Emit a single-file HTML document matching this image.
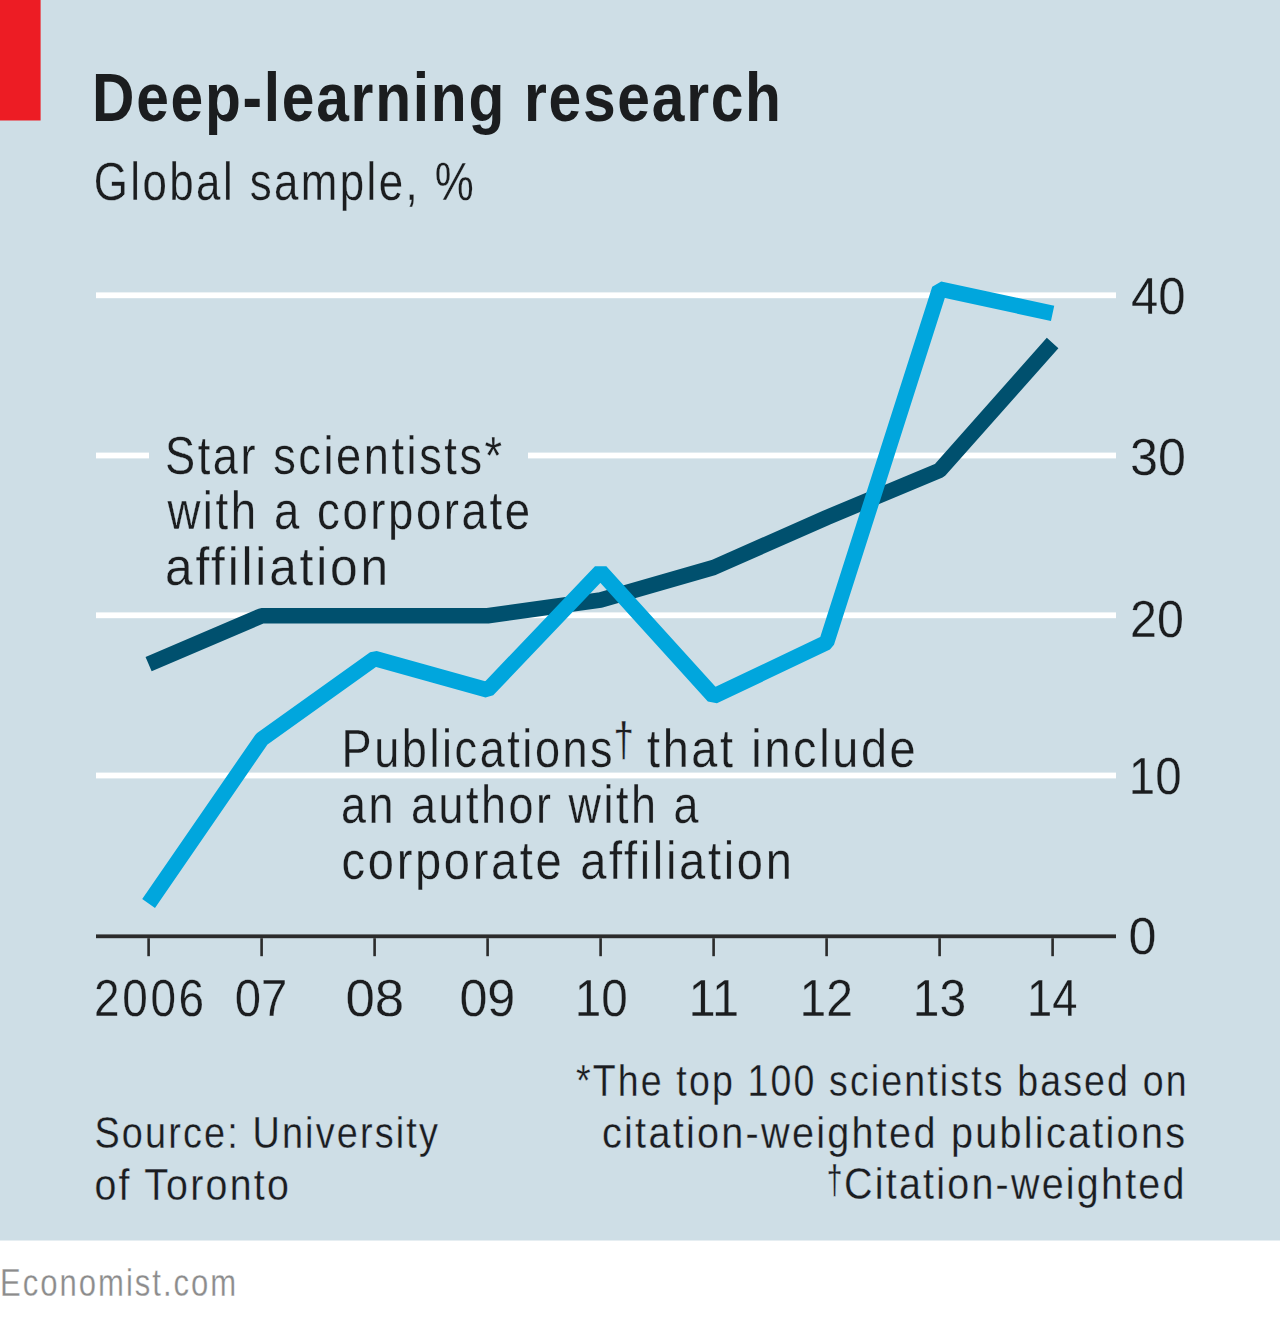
<!DOCTYPE html>
<html><head><meta charset="utf-8"><style>
html,body{margin:0;padding:0;background:#fff;}
body{width:1280px;height:1320px;overflow:hidden;}
svg{display:block;font-family:"Liberation Sans", sans-serif;}
</style></head><body>
<svg width="1280" height="1320" viewBox="0 0 1280 1320">
<rect x="0" y="0" width="1280" height="1320" fill="#fff"/>
<rect x="0" y="0" width="1280" height="1240.5" fill="#cedee6"/>
<rect x="0" y="0" width="40.6" height="120.5" fill="#ed1c24"/>
<rect x="96" y="292.40" width="1020" height="5.8" fill="#fff"/><rect x="96" y="452.60" width="53" height="5.8" fill="#fff"/><rect x="528" y="452.60" width="588" height="5.8" fill="#fff"/><rect x="96" y="612.40" width="1020" height="5.8" fill="#fff"/><rect x="96" y="772.60" width="1020" height="5.8" fill="#fff"/>
<rect x="96" y="934.40" width="1020" height="3.8" fill="#2b2b2b"/>
<rect x="147.30" y="938.20" width="2.6" height="18" fill="#2b2b2b"/><rect x="260.30" y="938.20" width="2.6" height="18" fill="#2b2b2b"/><rect x="373.30" y="938.20" width="2.6" height="18" fill="#2b2b2b"/><rect x="486.30" y="938.20" width="2.6" height="18" fill="#2b2b2b"/><rect x="599.30" y="938.20" width="2.6" height="18" fill="#2b2b2b"/><rect x="712.30" y="938.20" width="2.6" height="18" fill="#2b2b2b"/><rect x="825.30" y="938.20" width="2.6" height="18" fill="#2b2b2b"/><rect x="938.30" y="938.20" width="2.6" height="18" fill="#2b2b2b"/><rect x="1051.30" y="938.20" width="2.6" height="18" fill="#2b2b2b"/>
<polyline points="148.60,664.20 261.60,615.80 374.60,615.80 487.60,615.80 600.60,600.00 713.60,567.50 826.60,517.60 939.60,470.30 1052.60,343.00" fill="none" stroke="#00506e" stroke-width="15.5" stroke-linejoin="bevel" stroke-linecap="butt"/>
<polyline points="148.60,903.50 261.60,739.30 374.60,658.50 487.60,690.00 600.60,571.50 713.60,696.30 826.60,642.50 939.60,289.00 1052.60,313.40" fill="none" stroke="#00a6dd" stroke-width="15.5" stroke-linejoin="bevel" stroke-linecap="butt"/>
<text x="92.00" y="121.30" font-size="68.50" textLength="690.71" lengthAdjust="spacingAndGlyphs" font-weight="bold" letter-spacing="2" fill="#1b1d1f">Deep-learning research</text>
<text x="93.80" y="199.90" font-size="54.50" textLength="382.29" lengthAdjust="spacingAndGlyphs" letter-spacing="3" stroke="#cedee6" stroke-width="0.3" fill="#1b1d1f">Global sample, %</text>
<text x="165.00" y="473.70" font-size="53.00" textLength="339.69" lengthAdjust="spacingAndGlyphs" letter-spacing="3" stroke="#cedee6" stroke-width="0.3" fill="#1b1d1f">Star scientists*</text>
<text x="167.40" y="529.10" font-size="53.00" textLength="365.25" lengthAdjust="spacingAndGlyphs" letter-spacing="3" stroke="#cedee6" stroke-width="0.3" fill="#1b1d1f">with a corporate</text>
<text x="165.00" y="584.70" font-size="53.00" textLength="225.81" lengthAdjust="spacingAndGlyphs" letter-spacing="3" stroke="#cedee6" stroke-width="0.3" fill="#1b1d1f">affiliation</text>
<text x="341.60" y="766.90" font-size="53.00" textLength="273.60" lengthAdjust="spacingAndGlyphs" letter-spacing="3" stroke="#cedee6" stroke-width="0.3" fill="#1b1d1f">Publications</text>
<text x="613.60" y="756.10" font-size="49.00" textLength="20.36" lengthAdjust="spacingAndGlyphs" stroke="#cedee6" stroke-width="0.3" fill="#1b1d1f">†</text>
<text x="647.00" y="766.90" font-size="53.00" textLength="271.29" lengthAdjust="spacingAndGlyphs" letter-spacing="3" stroke="#cedee6" stroke-width="0.3" fill="#1b1d1f">that include</text>
<text x="341.00" y="823.10" font-size="53.00" textLength="360.03" lengthAdjust="spacingAndGlyphs" letter-spacing="3" stroke="#cedee6" stroke-width="0.3" fill="#1b1d1f">an author with a</text>
<text x="341.60" y="879.20" font-size="53.00" textLength="452.89" lengthAdjust="spacingAndGlyphs" letter-spacing="3" stroke="#cedee6" stroke-width="0.3" fill="#1b1d1f">corporate affiliation</text>
<text x="1131.00" y="313.70" font-size="52.00" textLength="54.57" lengthAdjust="spacingAndGlyphs" stroke="#cedee6" stroke-width="0.3" fill="#1b1d1f">40</text>
<text x="1130.00" y="474.50" font-size="52.00" textLength="55.84" lengthAdjust="spacingAndGlyphs" stroke="#cedee6" stroke-width="0.3" fill="#1b1d1f">30</text>
<text x="1130.00" y="636.50" font-size="52.00" textLength="53.85" lengthAdjust="spacingAndGlyphs" stroke="#cedee6" stroke-width="0.3" fill="#1b1d1f">20</text>
<text x="1128.80" y="793.80" font-size="52.00" textLength="52.85" lengthAdjust="spacingAndGlyphs" stroke="#cedee6" stroke-width="0.3" fill="#1b1d1f">10</text>
<text x="1128.60" y="954.20" font-size="52.00" textLength="27.93" lengthAdjust="spacingAndGlyphs" stroke="#cedee6" stroke-width="0.3" fill="#1b1d1f">0</text>
<text x="94.00" y="1015.70" font-size="52.00" textLength="112.78" lengthAdjust="spacingAndGlyphs" letter-spacing="3" stroke="#cedee6" stroke-width="0.3" fill="#1b1d1f">2006</text>
<text x="234.80" y="1015.70" font-size="52.00" textLength="52.59" lengthAdjust="spacingAndGlyphs" stroke="#cedee6" stroke-width="0.3" fill="#1b1d1f">07</text>
<text x="345.40" y="1015.70" font-size="52.00" textLength="58.79" lengthAdjust="spacingAndGlyphs" stroke="#cedee6" stroke-width="0.3" fill="#1b1d1f">08</text>
<text x="459.40" y="1015.70" font-size="52.00" textLength="55.92" lengthAdjust="spacingAndGlyphs" stroke="#cedee6" stroke-width="0.3" fill="#1b1d1f">09</text>
<text x="574.80" y="1015.70" font-size="52.00" textLength="53.06" lengthAdjust="spacingAndGlyphs" stroke="#cedee6" stroke-width="0.3" fill="#1b1d1f">10</text>
<text x="688.40" y="1015.70" font-size="52.00" textLength="50.70" lengthAdjust="spacingAndGlyphs" stroke="#cedee6" stroke-width="0.3" fill="#1b1d1f">11</text>
<text x="799.40" y="1015.70" font-size="52.00" textLength="53.52" lengthAdjust="spacingAndGlyphs" stroke="#cedee6" stroke-width="0.3" fill="#1b1d1f">12</text>
<text x="912.80" y="1015.70" font-size="52.00" textLength="53.32" lengthAdjust="spacingAndGlyphs" stroke="#cedee6" stroke-width="0.3" fill="#1b1d1f">13</text>
<text x="1027.00" y="1015.70" font-size="52.00" textLength="50.38" lengthAdjust="spacingAndGlyphs" stroke="#cedee6" stroke-width="0.3" fill="#1b1d1f">14</text>
<text x="94.40" y="1147.80" font-size="44.00" textLength="345.63" lengthAdjust="spacingAndGlyphs" letter-spacing="2.5" stroke="#cedee6" stroke-width="0.3" fill="#1b1d1f">Source: University</text>
<text x="94.40" y="1199.80" font-size="44.00" textLength="196.72" lengthAdjust="spacingAndGlyphs" letter-spacing="2.5" stroke="#cedee6" stroke-width="0.3" fill="#1b1d1f">of Toronto</text>
<text x="576.00" y="1096.00" font-size="44.00" textLength="612.64" lengthAdjust="spacingAndGlyphs" letter-spacing="2.5" stroke="#cedee6" stroke-width="0.3" fill="#1b1d1f">*The top 100 scientists based on</text>
<text x="602.00" y="1147.70" font-size="44.00" textLength="585.24" lengthAdjust="spacingAndGlyphs" letter-spacing="2.5" stroke="#cedee6" stroke-width="0.3" fill="#1b1d1f">citation-weighted publications</text>
<text x="826.80" y="1193.50" font-size="40.80" textLength="15.67" lengthAdjust="spacingAndGlyphs" stroke="#cedee6" stroke-width="0.3" fill="#1b1d1f">†</text>
<text x="844.00" y="1199.40" font-size="44.00" textLength="342.70" lengthAdjust="spacingAndGlyphs" letter-spacing="2.5" stroke="#cedee6" stroke-width="0.3" fill="#1b1d1f">Citation-weighted</text>
<text x="0.00" y="1295.75" font-size="39.00" textLength="238.20" lengthAdjust="spacingAndGlyphs" letter-spacing="2.5" stroke="#fff" stroke-width="0.3" fill="#8c8c8c">Economist.com</text>
</svg>
</body></html>
